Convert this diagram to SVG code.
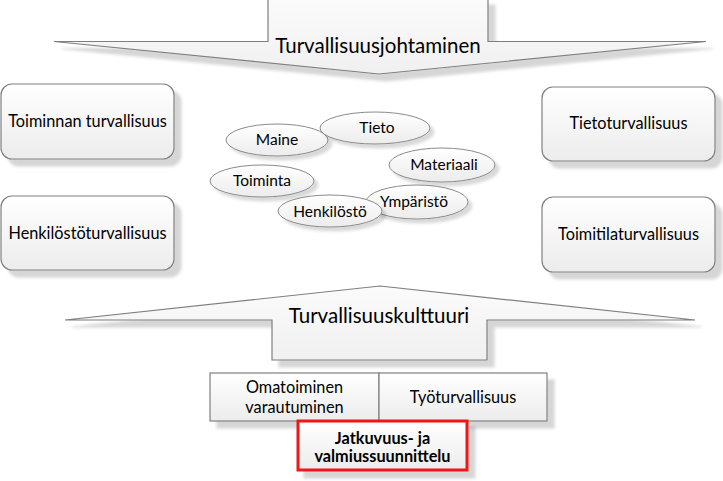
<svg xmlns="http://www.w3.org/2000/svg" width="723" height="481" viewBox="0 0 723 481">
<defs>
<linearGradient id="gv" x1="0" y1="0" x2="0" y2="1">
<stop offset="0" stop-color="#ffffff"/><stop offset="1" stop-color="#ececec"/>
</linearGradient>
<linearGradient id="ga" x1="0" y1="0" x2="0" y2="1">
<stop offset="0" stop-color="#fbfbfb"/><stop offset="1" stop-color="#f0f0f0"/>
</linearGradient>
<filter id="sh" x="-10%" y="-20%" width="130%" height="160%">
<feGaussianBlur in="SourceAlpha" stdDeviation="1.8" result="b"/>
<feOffset in="b" dx="7" dy="7" result="o"/>
<feFlood flood-color="#000" flood-opacity="0.16"/>
<feComposite in2="o" operator="in" result="s"/>
<feMerge><feMergeNode in="s"/><feMergeNode in="SourceGraphic"/></feMerge>
</filter>
<filter id="she" x="-10%" y="-20%" width="130%" height="160%">
<feGaussianBlur in="SourceAlpha" stdDeviation="1.5" result="b"/>
<feOffset in="b" dx="4" dy="4" result="o"/>
<feFlood flood-color="#000" flood-opacity="0.15"/>
<feComposite in2="o" operator="in" result="s"/>
<feMerge><feMergeNode in="s"/><feMergeNode in="SourceGraphic"/></feMerge>
</filter>
</defs>
<style>
.arrow{fill:url(#ga);stroke:#7f7f7f;stroke-width:1.2;filter:url(#sh)}
.box{fill:url(#gv);stroke:#808080;stroke-width:1.2;filter:url(#sh)}
.ell{fill:url(#gv);stroke:#8a8a8a;stroke-width:1;filter:url(#she)}
.sq{fill:url(#gv);stroke:#7f7f7f;stroke-width:1.2}
.red{fill:url(#gv);stroke:#f01818;stroke-width:3;filter:url(#sh)}
text{font-family:Lato,"Open Sans",sans-serif;fill:#000;text-anchor:middle}
.t16{font-size:16.3px}
.t15{font-size:15.5px}
.t20{font-size:20.5px}
.b16{font-size:16.3px;font-weight:bold}
</style>
<rect width="723" height="481" fill="#ffffff"/>

<g id="connectors"/>

<g id="turvallisuusjohtaminen">
<path class="arrow" d="M268,-2 L488,-2 L488,41.5 L706,41.5 L379,74 L54,41.5 L268,41.5 Z"/>
<text class="t20" x="378" y="53">Turvallisuusjohtaminen</text>
</g>

<g id="toiminnan-turvallisuus">
<rect class="box" x="1" y="84" width="173" height="75" rx="11"/>
<text class="t16" x="87.5" y="127">Toiminnan turvallisuus</text>
</g>
<g id="henkilostoturvallisuus">
<rect class="box" x="1" y="196" width="173" height="74" rx="11"/>
<text class="t16" x="87.5" y="239">Henkilöstöturvallisuus</text>
</g>
<g id="tietoturvallisuus">
<rect class="box" x="542" y="87" width="173" height="74" rx="11"/>
<text class="t16" x="628.5" y="129">Tietoturvallisuus</text>
</g>
<g id="toimitilaturvallisuus">
<rect class="box" x="542" y="197" width="173" height="75" rx="11"/>
<text class="t16" x="628.5" y="240">Toimitilaturvallisuus</text>
</g>

<g id="maine">
<ellipse class="ell" cx="277" cy="140" rx="51" ry="16"/>
<text class="t15" x="277" y="145">Maine</text>
</g>
<g id="tieto">
<ellipse class="ell" cx="375" cy="128" rx="55" ry="16"/>
<text class="t15" x="377" y="133">Tieto</text>
</g>
<g id="materiaali">
<ellipse class="ell" cx="442" cy="165" rx="53" ry="17"/>
<text class="t15" x="444" y="170">Materiaali</text>
</g>
<g id="toiminta">
<ellipse class="ell" cx="262" cy="181" rx="52" ry="16"/>
<text class="t15" x="262" y="186">Toiminta</text>
</g>
<g id="ymparisto">
<ellipse class="ell" cx="417" cy="202" rx="51" ry="17"/>
<text class="t15" x="414" y="207">Ympäristö</text>
</g>
<g id="henkilosto">
<ellipse class="ell" cx="330" cy="211" rx="52" ry="16"/>
<text class="t15" x="330" y="217">Henkilöstö</text>
</g>

<g id="turvallisuuskulttuuri">
<path class="arrow" d="M380,286 L695,320 L487,320 L487,360 L272,360 L272,320 L65,320 Z"/>
<text class="t20" x="379" y="323">Turvallisuuskulttuuri</text>
</g>

<g id="bottom-row" filter="url(#sh)">
<rect class="sq" x="210" y="373" width="169" height="48"/>
<rect class="sq" x="379" y="373" width="168" height="48"/>
</g>
<g id="omatoiminen-varautuminen">
<text class="t16" x="294.5" y="393">Omatoiminen</text>
<text class="t16" x="294.5" y="413">varautuminen</text>
</g>
<g id="tyoturvallisuus">
<text class="t16" x="463" y="403">Työturvallisuus</text>
</g>

<g id="jatkuvuus-ja-valmiussuunnittelu">
<rect class="red" x="298" y="421" width="169" height="49"/>
<text class="b16" x="382.5" y="444">Jatkuvuus- ja</text>
<text class="b16" x="382.5" y="462">valmiussuunnittelu</text>
</g>
</svg>
